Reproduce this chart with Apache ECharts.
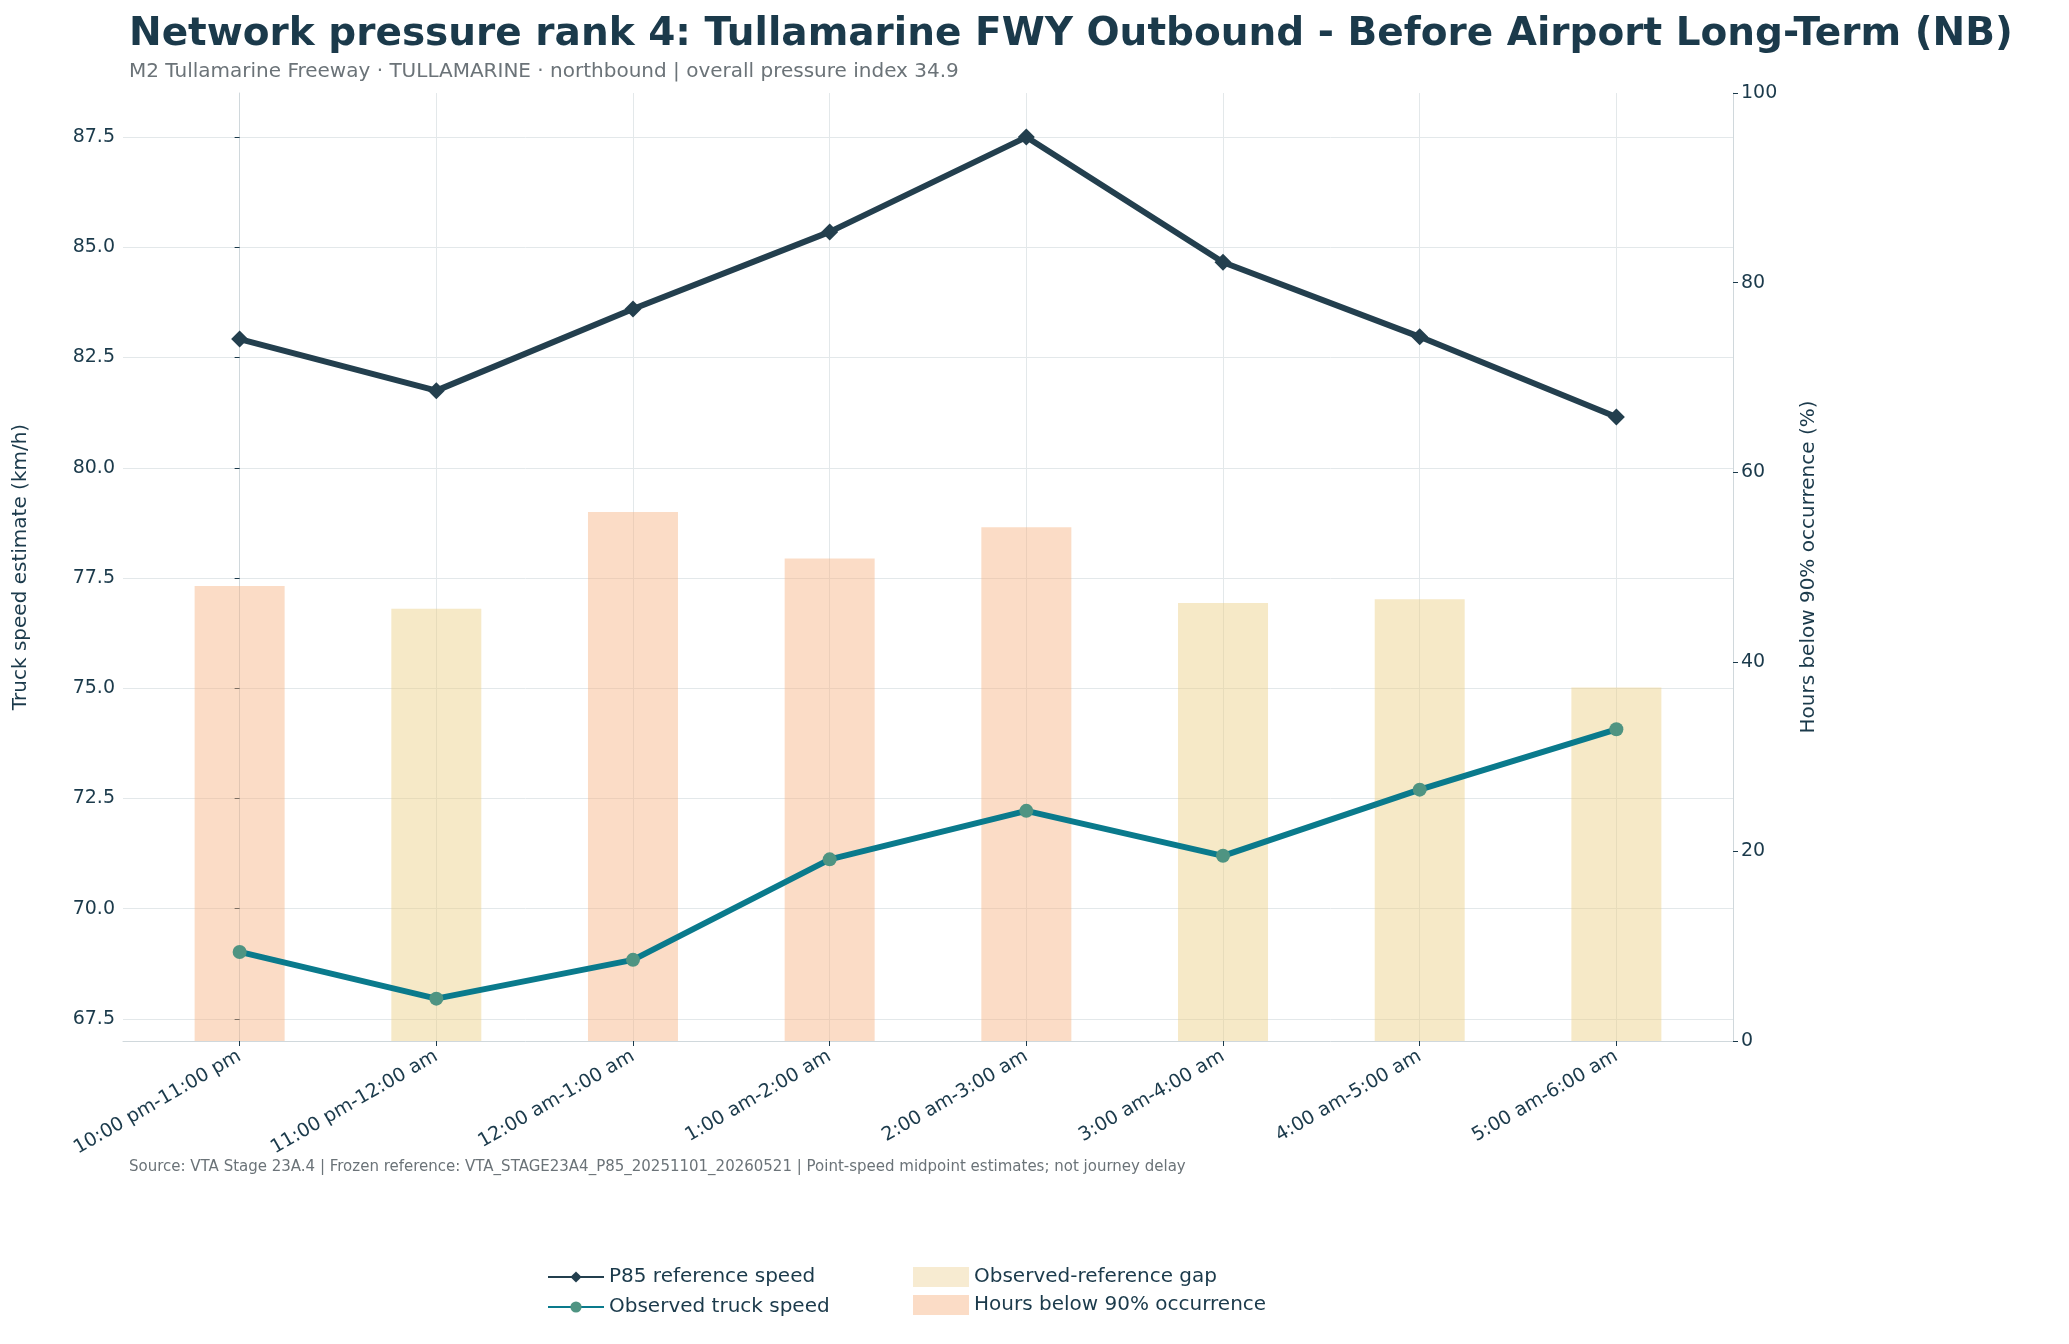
<!DOCTYPE html>
<html><head><meta charset="utf-8">
<script src="https://cdn.jsdelivr.net/npm/echarts@6/dist/echarts.min.js"></script>
<style>html,body{margin:0;background:#fff}#c{width:2069px;height:1344px}</style>
</head><body><div id="c"></div>
<script>
var categories = ['10:00 pm-11:00 pm', '11:00 pm-12:00 am', '12:00 am-1:00 am', '1:00 am-2:00 am',
    '2:00 am-3:00 am', '3:00 am-4:00 am', '4:00 am-5:00 am', '5:00 am-6:00 am'];
var p85 = [82.92, 81.75, 83.6, 85.35, 87.5, 84.66, 82.97, 81.15];
var observed = [69.02, 67.96, 68.84, 71.12, 72.22, 71.2, 72.7, 74.07];
var hoursBelow = [48.0, 45.6, 55.8, 50.9, 54.2, 46.2, 46.6, 37.3];
var leftTicks = [67.5, 70.0, 72.5, 75.0, 77.5, 80.0, 82.5, 85.0, 87.5];
var xTicks = [0, 1, 2, 3, 4, 5, 6, 7];

function pairs(arr) { return arr.map(function (v, i) { return [i, v]; }); }
var gap = p85.map(function (v, i) { return [i, +(v - observed[i]).toFixed(2)]; });
var barData = hoursBelow.map(function (v, i) {
    return {
        value: [i, v],
        itemStyle: { color: v > 47 ? 'rgba(246,178,128,0.45)' : 'rgba(236,206,130,0.45)' }
    };
});

var myChart = echarts.init(document.getElementById('c'));
var font = 'DejaVu Sans';
var option = {
    backgroundColor: '#fff',
    textStyle: { fontFamily: font },
    title: [
        { text: 'Network pressure rank 4: Tullamarine FWY Outbound - Before Airport Long-Term (NB)',
          left: 124, top: 10, textStyle: { fontSize: 39, fontWeight: 'bold', color: '#1b3a4b', fontFamily: font } },
        { text: 'M2 Tullamarine Freeway · TULLAMARINE · northbound | overall pressure index 34.9',
          left: 124, top: 57, textStyle: { fontSize: 20, fontWeight: 'normal', color: '#6b7378', fontFamily: font } },
        { text: 'Source: VTA Stage 23A.4 | Frozen reference: VTA_STAGE23A4_P85_20251101_20260521 | Point-speed midpoint estimates; not journey delay',
          left: 124, top: 1155, textStyle: { fontSize: 15, fontWeight: 'normal', color: '#6b7378', fontFamily: font } }
    ],
    legend: [
        { data: ['P85 reference speed', 'Observed truck speed'], orient: 'vertical', left: 542, top: 1262,
          itemWidth: 56, itemHeight: 14, itemGap: 10, textStyle: { fontSize: 20, color: '#1b3a4b' } },
        { data: [{ name: 'Observed-reference gap', icon: 'rect' }, { name: 'Hours below 90% occurrence', icon: 'rect' }],
          orient: 'vertical', left: 908, top: 1262,
          itemWidth: 56, itemHeight: 20, itemGap: 8, textStyle: { fontSize: 20, color: '#1b3a4b' } }
    ],
    grid: { left: 123, right: 336, top: 93, bottom: 303, containLabel: false },
    xAxis: [{
        type: 'value',
        min: -0.593,
        max: 7.593,
        axisLine: { show: true, lineStyle: { color: '#d0d8dc' } },
        axisTick: { show: true, customValues: xTicks, lineStyle: { color: '#1b3a4b' } },
        axisLabel: { customValues: xTicks, rotate: 30, fontSize: 19, color: '#1b3a4b', margin: 14,
            formatter: function (v) { return categories[Math.round(v)]; } },
        splitLine: { show: true, lineStyle: { color: '#e3e8ea' } }
    }],
    yAxis: [{
        type: 'value',
        min: 67.0,
        max: 88.5,
        name: 'Truck speed estimate (km/h)',
        nameLocation: 'middle',
        nameGap: 92,
        nameTextStyle: { fontSize: 20, color: '#1b3a4b' },
        axisLine: { show: true, lineStyle: { color: '#d0d8dc' } },
        axisTick: { show: true, customValues: leftTicks, lineStyle: { color: '#1b3a4b' } },
        axisLabel: { customValues: leftTicks, fontSize: 19, color: '#1b3a4b',
            formatter: function (v) { return v.toFixed(1); } },
        splitLine: { show: true, lineStyle: { color: '#e3e8ea' } }
    }, {
        type: 'value',
        min: 0,
        max: 100,
        interval: 20,
        name: 'Hours below 90% occurrence (%)',
        nameLocation: 'middle',
        nameGap: 66,
        nameTextStyle: { fontSize: 20, color: '#1b3a4b' },
        axisLine: { show: true, lineStyle: { color: '#d0d8dc' } },
        axisTick: { show: true, lineStyle: { color: '#1b3a4b' } },
        axisLabel: { fontSize: 19, color: '#1b3a4b' },
        splitLine: { show: false }
    }],
    series: [
        {
            name: 'Hours below 90% occurrence',
            type: 'bar',
            yAxisIndex: 1,
            data: barData,
            barWidth: 90,
            itemStyle: { color: 'rgba(246,178,128,0.45)' },
            z: 1
        },
        {
            name: 'base',
            type: 'line',
            stack: 'gap',
            data: pairs(observed),
            symbol: 'none',
            lineStyle: { opacity: 0 },
            silent: true,
            z: 2
        },
        {
            name: 'Observed-reference gap',
            type: 'line',
            stack: 'gap',
            data: gap,
            symbol: 'none',
            lineStyle: { opacity: 0 },
            itemStyle: { color: 'rgba(236,206,140,0.4)', borderColor: 'rgba(230,200,130,0.6)' },
            areaStyle: { color: 'rgba(236,206,140,0.35)' },
            silent: true,
            z: 2
        },
        {
            name: 'P85 reference speed',
            type: 'line',
            data: pairs(p85),
            symbol: 'diamond',
            symbolSize: 17,
            lineStyle: { width: 6, color: '#233f4e' },
            itemStyle: { color: '#233f4e' },
            z: 5
        },
        {
            name: 'Observed truck speed',
            type: 'line',
            data: pairs(observed),
            symbol: 'circle',
            symbolSize: 14,
            lineStyle: { width: 6, color: '#0a7a8c' },
            itemStyle: { color: '#4f9482' },
            z: 5
        }
    ]
};
myChart.setOption(option);
window.addEventListener('resize', function () { myChart.resize(); });
</script>
</body></html>
